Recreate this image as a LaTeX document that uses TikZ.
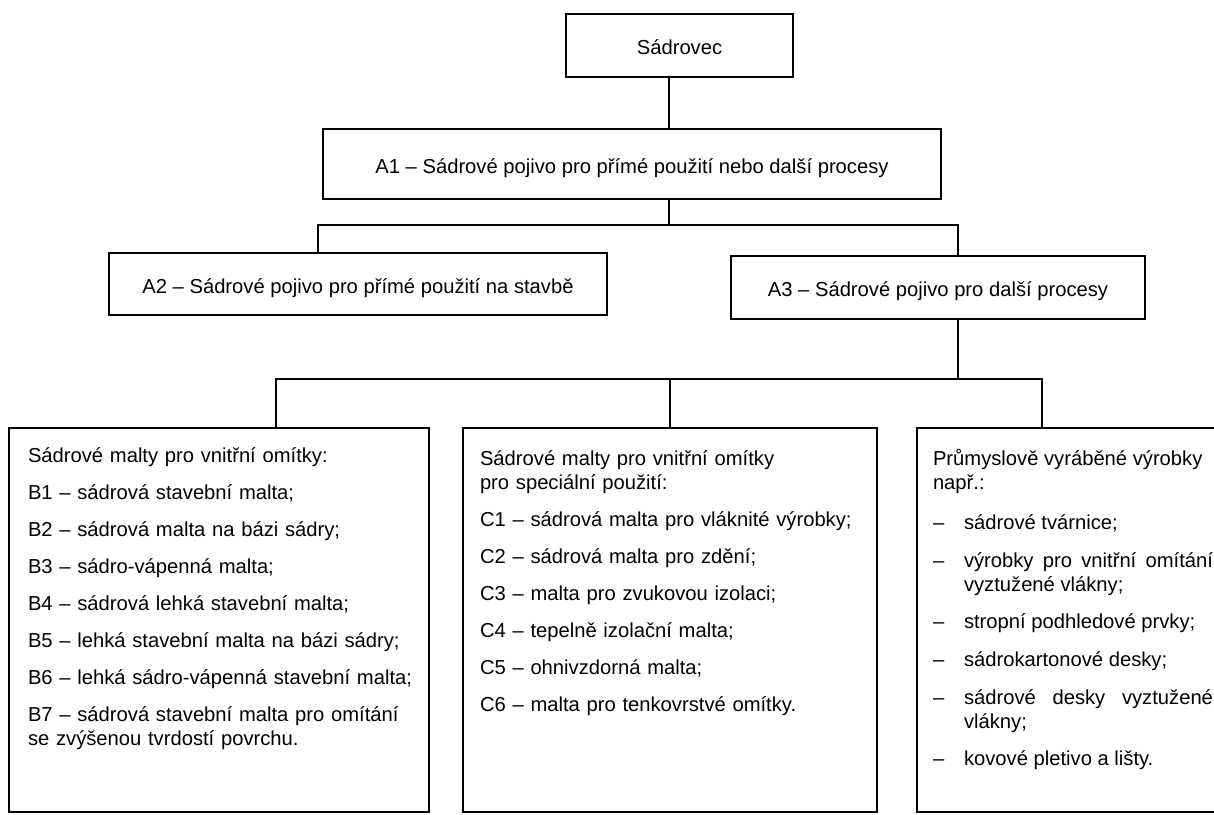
\documentclass[tikz,border=0pt]{standalone}
\usepackage{fontspec}
\setmainfont{Liberation Sans}

\newcommand\polozka[1]{\par\hangindent=15.5pt\hangafter=1\noindent\makebox[15.5pt][l]{–}#1}

\begin{document}
\begin{tikzpicture}[x=0.5pt,y=-0.5pt,line width=1pt,
    every node/.style={font=\fontsize{10.1}{12}\selectfont},
    topbox/.style={draw,line width=1.2pt,inner sep=0pt,text height=11.6pt,text depth=2.2pt},
    listbox/.style={draw,line width=1.2pt,minimum width=207pt,minimum height=192pt,inner sep=0pt},
    listtext/.style={anchor=base west,inner sep=0pt,align=left}]
  \useasboundingbox (0,0) rectangle (1214,814);
  \clip (0,0) rectangle (1214,814);

  % upper boxes
  \node[topbox,minimum width=113.5pt,minimum height=31.5pt] (sadrovec) at (679.5,45.5) {Sádrovec};
  \node[topbox,minimum width=309pt,minimum height=35pt] (a1) at (632,164)
      {A1 – Sádrové pojivo pro přímé použití nebo další procesy};
  \node[topbox,minimum width=249pt,minimum height=31pt] (a2) at (358,284)
      {A2 – Sádrové pojivo pro přímé použití na stavbě};
  \node[topbox,minimum width=207pt,minimum height=31.5pt] (a3) at (938,287.5)
      {A3 – Sádrové pojivo pro další procesy};

  % lower boxes
  \node[listbox,minimum width=210pt] (boxb) at (219,620) {};
  \node[listbox] (boxc) at (670,620) {};
  \node[listbox] (boxp) at (1124,620) {};

  \node[listtext,text width=200pt] (textb) at (27,462)
      {Sádrové malty pro vnitřní omítky:\\[6.5pt]
       B1 – sádrová stavební malta;\\[6.5pt]
       B2 – sádrová malta na bázi sádry;\\[6.5pt]
       B3 – sádro-vápenná malta;\\[6.5pt]
       B4 – sádrová lehká stavební malta;\\[6.5pt]
       B5 – lehká stavební malta na bázi sádry;\\[6.5pt]
       B6 – lehká sádro-vápenná stavební malta;\\[6.5pt]
       B7 – sádrová stavební malta pro omítání\\
       se zvýšenou tvrdostí povrchu.};
  \node[listtext,text width=198pt] (textc) at (479,465)
      {Sádrové malty pro vnitřní omítky\\
       pro speciální použití:\\[6.5pt]
       C1 – sádrová malta pro vláknité výrobky;\\[6.5pt]
       C2 – sádrová malta pro zdění;\\[6.5pt]
       C3 – malta pro zvukovou izolaci;\\[6.5pt]
       C4 – tepelně izolační malta;\\[6.5pt]
       C5 – ohnivzdorná malta;\\[6.5pt]
       C6 – malta pro tenkovrstvé omítky.};
  \node[listtext,text width=140pt,align=justify] (textp) at (932,465)
      {\setlength{\parskip}{6.8pt}%
       Průmyslově vyráběné výrobky\newline např.:\par\vspace{1.5pt}%
       \polozka{sádrové tvárnice;}
       \polozka{výrobky pro vnitřní omítání\linebreak vyztužené vlákny;}
       \polozka{stropní podhledové prvky;}
       \polozka{sádrokartonové desky;}
       \polozka{sádrové desky vyztužené\linebreak vlákny;}
       \polozka{kovové pletivo a lišty.}};

  % connectors
  \draw ([xshift=-5.25pt]sadrovec.south) coordinate (s1) -- (s1 |- a1.north);
  \draw ([xshift=18.5pt]a1.south) -- ++(0,-12.5pt) coordinate (busa);
  \draw ([xshift=-20pt]a2.north) |- (busa) -| ([xshift=10pt]a3.north);
  \draw ([xshift=10pt]a3.south) -- ++(0,-29.5pt) coordinate (busb);
  \draw ([xshift=28.5pt]boxb.north) |- (busb) -| ([xshift=-41pt]boxp.north);
  \draw (boxc.north) -- (boxc.north |- busb);
\end{tikzpicture}
\end{document}
